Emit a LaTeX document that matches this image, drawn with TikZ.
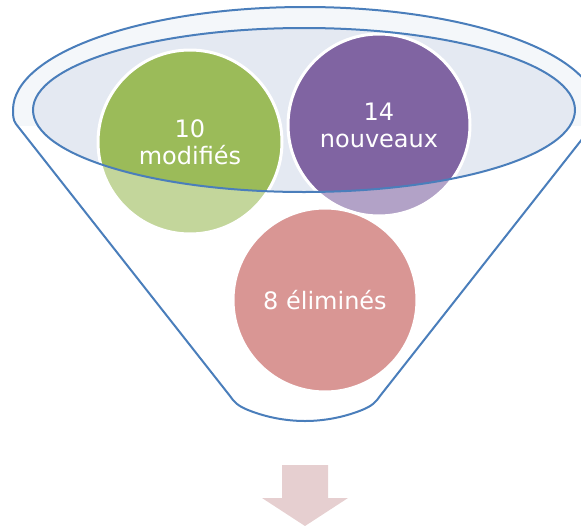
\documentclass[tikz,border=0pt]{standalone}
\usepackage{fontspec}
\setmainfont{DejaVu Sans}
\definecolor{funblue}{HTML}{4A7EBB}
\definecolor{innerfill}{HTML}{E4E9F2}
\definecolor{ringfill}{HTML}{EEF2F8}
\definecolor{cgreen}{HTML}{9BBB59}
\definecolor{cpurple}{HTML}{8064A2}
\definecolor{cred}{HTML}{C0504D}
\definecolor{arrowpink}{HTML}{E6CFD0}
\begin{document}
\begin{tikzpicture}[x=1pt,y=-1pt,
  funnelline/.style={draw=funblue,line width=2pt},
  bubble/.style={circle,draw=white,line width=3pt,text=white,align=center,
    inner sep=0pt,minimum size=184pt,font=\fontsize{24}{27}\selectfont}]
\useasboundingbox (0,0) rectangle (581,525);
% ring between outer and inner ellipse (upper part)
\begin{scope}
\clip (0,0) rectangle (581,125);
\fill[ringfill,even odd rule] (305,110) ellipse [x radius=292, y radius=103]
  (304,110) ellipse [x radius=271, y radius=82];
\end{scope}
% inner ellipse fill
\fill[innerfill] (304,110) ellipse [x radius=271, y radius=82];
% bubbles
\node[bubble,fill=cgreen] (mod) at (190,142) {10\\modifiés};
\node[bubble,fill=cpurple,minimum size=182pt] (nouv) at (379,125) {14\\nouveaux};
\node[bubble,fill=cred] (elim) at (325,300) {8 éliminés};
% translucent funnel body
\fill[white,fill opacity=0.4,even odd rule]
  (230,396) -- (16,124) .. controls (13,120) and (13,115) .. (13,110)
  arc[start angle=180,end angle=360,x radius=292,y radius=103]
  .. controls (597,115) and (597,120) .. (594,124) -- (380,396)
  .. controls (376,402) and (372,406) .. (362,410)
  .. controls (342,418) and (322,421) .. (305,421)
  .. controls (288,421) and (268,418) .. (248,410)
  .. controls (238,406) and (234,402) .. (230,396) -- cycle
  (304,110) ellipse [x radius=271, y radius=82];
% outlines
\draw[funnelline,line join=round]
  (230,396) -- (16,124) .. controls (13,120) and (13,115) .. (13,110)
  arc[start angle=180,end angle=360,x radius=292,y radius=103]
  .. controls (597,115) and (597,120) .. (594,124) -- (380,396)
  .. controls (376,402) and (372,406) .. (362,410)
  .. controls (342,418) and (322,421) .. (305,421)
  .. controls (288,421) and (268,418) .. (248,410)
  .. controls (238,406) and (234,402) .. (230,396) -- cycle;
\draw[funnelline] (304,110) ellipse [x radius=271, y radius=82];
% down arrow
\fill[arrowpink] (282,465) -- (328,465) -- (328,498) -- (348,498) -- (305,526)
  -- (262,498) -- (282,498) -- cycle;
\end{tikzpicture}
\end{document}
